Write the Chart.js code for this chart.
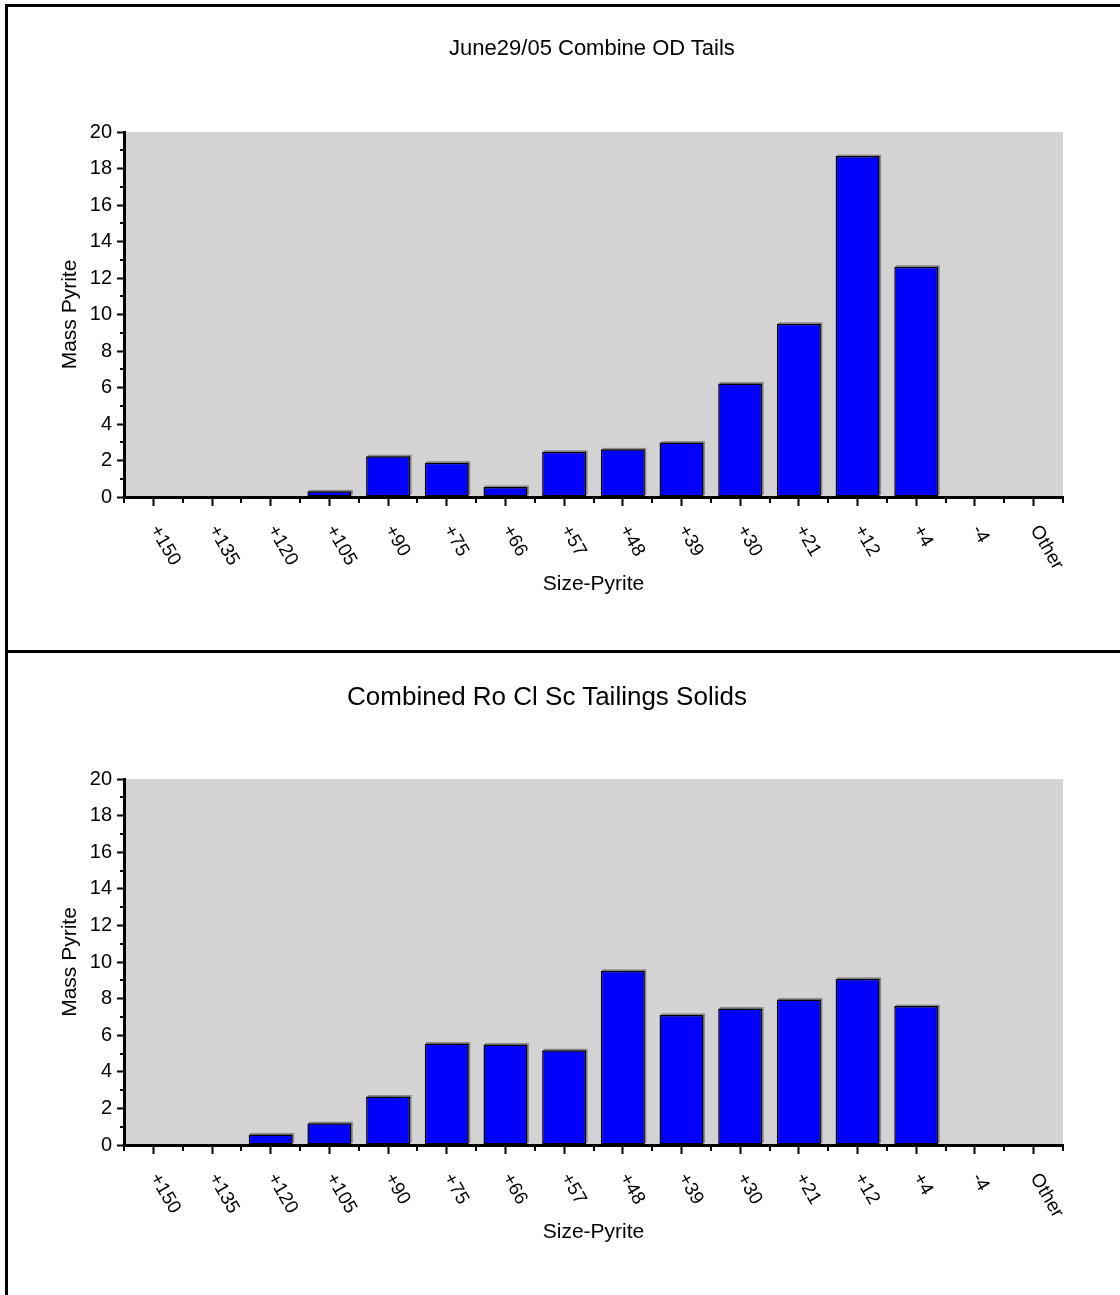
<!DOCTYPE html>
<html>
<head>
<meta charset="utf-8">
<script src="https://cdn.jsdelivr.net/npm/chart.js@4.4.0/dist/chart.umd.min.js"></script>
<style>
  body { margin: 0; background: #fff; font-family: "Liberation Sans", Arial, sans-serif; }
  #page { position: relative; width: 1120px; height: 1295px; overflow: hidden; }
  .panel { position: absolute; left: 0; width: 1120px; }
  .title { position: absolute; white-space: nowrap; color: #000; transform: translateX(-50%); }
  .line { position: absolute; background: #000; }
</style>
</head>
<body>
<div id="page">
  <div class="panel" style="top:0;height:651px"><canvas id="chartTop"></canvas></div>
  <div class="panel" style="top:651px;height:644px"><canvas id="chartBottom"></canvas></div>
  <div class="title" style="left:592px;top:35px;font-size:22px;line-height:26px">June29/05 Combine OD Tails</div>
  <div class="title" style="left:547px;top:681px;font-size:26px;line-height:30px">Combined Ro Cl Sc Tailings Solids</div>
  <div class="line" style="left:5px;top:4px;width:1115px;height:3px"></div>
  <div class="line" style="left:5px;top:4px;width:3px;height:1291px"></div>
  <div class="line" style="left:5px;top:650px;width:1115px;height:3px"></div>
</div>
<script>
const sizes = ["+150", "+135", "+120", "+105", "+90", "+75", "+66", "+57",
               "+48", "+39", "+30", "+21", "+12", "+4", "-4", "Other"];
const massTop = [0, 0, 0, 0.31, 2.23, 1.88, 0.55, 2.48, 2.61, 2.98, 6.22, 9.49, 18.68, 12.62, 0, 0];
const massBottom = [0, 0, 0.58, 1.19, 2.65, 5.55, 5.49, 5.18, 9.52, 7.11, 7.46, 7.95, 9.08, 7.59, 0, 0];
const yMax = 20;
const yStep = 2;

const FONT = '"Liberation Sans", Arial, sans-serif';

// grey plot area, bar shadows, minor ticks and rotated x labels
const decor = {
  id: "decor",
  beforeDraw(chart) {
    const { ctx, chartArea: a } = chart;
    ctx.save();
    ctx.fillStyle = "#d3d3d3";
    ctx.fillRect(a.left, a.top, a.right - a.left, a.bottom - a.top);
    ctx.restore();
  },
  beforeDatasetsDraw(chart) {
    const ctx = chart.ctx;
    const meta = chart.getDatasetMeta(0);
    ctx.save();
    ctx.fillStyle = "rgba(80,80,80,0.55)";
    meta.data.forEach(bar => {
      const p = bar.getProps(["x", "y", "base", "width"], true);
      if (p.base - p.y < 0.5) return;
      ctx.fillRect(p.x - p.width / 2 + 1.5, p.y - 1.5, p.width, p.base - p.y);
    });
    ctx.restore();
  },
  afterDraw(chart) {
    const { ctx } = chart;
    const x = chart.scales.x, y = chart.scales.y;
    ctx.save();
    ctx.strokeStyle = "#000";
    ctx.lineWidth = 2;
    // minor y ticks
    for (let v = yStep / 2; v < yMax; v += yStep) {
      const py = Math.round(y.getPixelForValue(v));
      ctx.beginPath();
      ctx.moveTo(y.right - 4, py);
      ctx.lineTo(y.right, py);
      ctx.stroke();
    }
    // short ticks between categories
    for (let i = 0; i <= sizes.length; i++) {
      const px = Math.round(x.getPixelForValue(i - 0.5));
      ctx.beginPath();
      ctx.moveTo(px, x.top);
      ctx.lineTo(px, x.top + 6);
      ctx.stroke();
    }
    // rotated category labels
    ctx.fillStyle = "#000";
    ctx.font = "19px " + FONT;
    ctx.textAlign = "left";
    ctx.textBaseline = "middle";
    x.ticks.forEach((t, i) => {
      const px = x.getPixelForTick(i);
      ctx.save();
      ctx.translate(px + 1, x.top + 30);
      ctx.rotate(60 * Math.PI / 180);
      ctx.fillText(x.getLabelForValue(t.value), 0, 0);
      ctx.restore();
    });
    ctx.restore();
  }
};

function makeChart(id, values, padTop, xHeight, xTitlePad) {
  return new Chart(document.getElementById(id), {
    type: "bar",
    data: {
      labels: sizes,
      datasets: [{
        data: values,
        backgroundColor: "#0000ff",
        borderColor: "#000",
        borderWidth: 1.5,
        borderSkipped: false,
        barPercentage: 0.75,
        categoryPercentage: 1
      }]
    },
    options: {
      responsive: true,
      maintainAspectRatio: false,
      animation: false,
      layout: { padding: { top: padTop, right: 57, left: 0, bottom: 0 } },
      plugins: { legend: { display: false }, tooltip: { enabled: false } },
      scales: {
        x: {
          offset: true,
          grid: { offset: false, drawOnChartArea: false, tickLength: 9, tickWidth: 2, tickColor: "#000" },
          border: { display: true, width: 3, color: "#000" },
          ticks: { display: false },
          title: { display: true, text: "Size-Pyrite", color: "#000", font: { family: FONT, size: 21 }, padding: { bottom: xTitlePad } },
          afterFit: s => { s.height = xHeight; }
        },
        y: {
          min: 0,
          max: yMax,
          ticks: { stepSize: yStep, color: "#000", font: { family: FONT, size: 20 }, padding: 5 },
          grid: { drawOnChartArea: false, tickLength: 7, tickWidth: 2, tickColor: "#000" },
          border: { display: true, width: 3, color: "#000" },
          title: { display: true, text: "Mass Pyrite", color: "#000", font: { family: FONT, size: 21 }, padding: { top: 58 } },
          afterFit: s => { s.width = 124; }
        }
      }
    },
    plugins: [decor]
  });
}

makeChart("chartTop", massTop, 132, 154, 54);
makeChart("chartBottom", massBottom, 128, 150, 50);
</script>
</body>
</html>
